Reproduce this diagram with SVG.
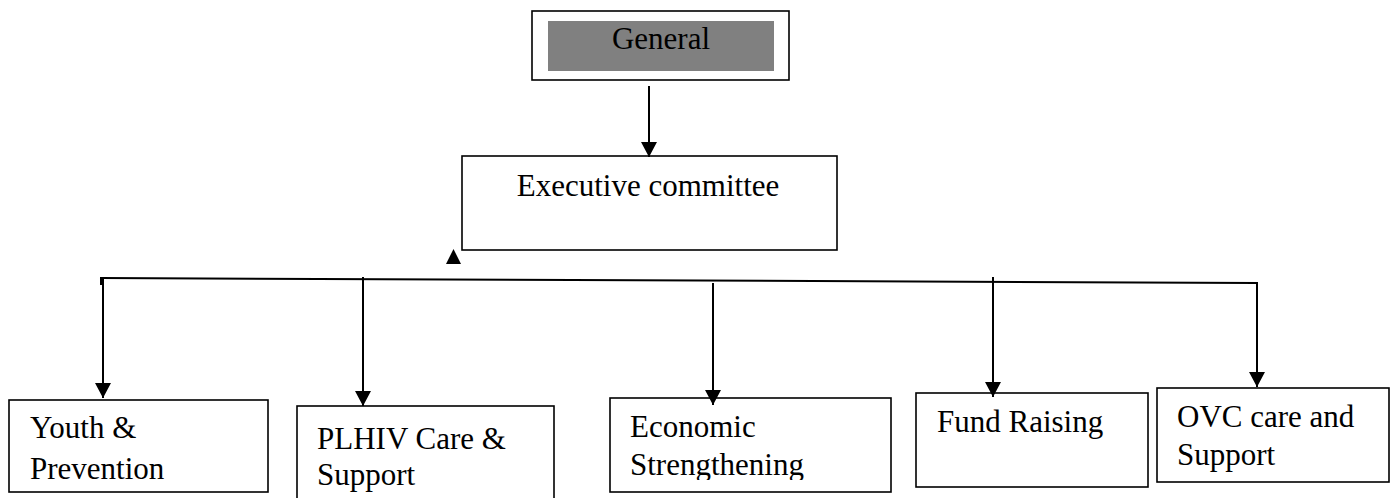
<svg xmlns="http://www.w3.org/2000/svg" width="1396" height="498" viewBox="0 0 1396 498">
<style>
.box{fill:#fff;stroke:#000;stroke-width:1.6}
.lbl{font-family:"Liberation Serif","Times New Roman",serif;font-size:31px;fill:#000}
.mid{text-anchor:middle}
.con{stroke:#000;stroke-width:2;fill:none}
</style>
<defs>
<marker id="ah" markerUnits="userSpaceOnUse" markerWidth="15" markerHeight="16" refX="15" refY="8" orient="auto">
<path d="M0,0 L15,8 L0,16 z" fill="#000"/>
</marker>
<clipPath id="clipEco"><rect x="611" y="399" width="279" height="81"/></clipPath>
</defs>
<rect width="1396" height="498" fill="#fff"/>
<g id="general">
<rect class="box" x="532" y="11" width="257" height="69" stroke-width="2"/>
<rect x="548" y="21" width="226" height="50" fill="#808080"/>
<text class="lbl mid" x="661" y="49">General</text>
</g>
<g id="executive">
<rect class="box" x="462" y="156" width="375" height="94"/>
<text class="lbl mid" x="648" y="196">Executive committee</text>
</g>
<g id="youth">
<rect class="box" x="9" y="400" width="259" height="92"/>
<text class="lbl" x="30" y="438">Youth &amp;</text>
<text class="lbl" x="30" y="479">Prevention</text>
</g>
<g id="plhiv">
<rect class="box" x="297" y="406" width="257" height="100"/>
<text class="lbl" x="317" y="449">PLHIV Care &amp;</text>
<text class="lbl" x="317" y="485">Support</text>
</g>
<g id="economic">
<rect class="box" x="610" y="398" width="281" height="94"/>
<g clip-path="url(#clipEco)">
<text class="lbl" x="630" y="437">Economic</text>
<text class="lbl" x="630" y="475">Strengthening</text>
</g>
</g>
<g id="fund">
<rect class="box" x="916" y="393" width="232" height="94"/>
<text class="lbl" x="937" y="432">Fund Raising</text>
</g>
<g id="ovc">
<rect class="box" x="1157" y="388" width="232" height="94"/>
<text class="lbl" x="1177" y="427">OVC care and</text>
<text class="lbl" x="1177" y="465">Support</text>
</g>
<g id="connectors">
<line class="con" x1="649" y1="86" x2="649" y2="157" marker-end="url(#ah)"/>
<polygon points="446,264 453.5,249 461,264" fill="#000"/>
<polyline class="con" points="100,278 1257,283 1257,387" marker-end="url(#ah)"/>
<line class="con" x1="101" y1="278" x2="101" y2="285"/>
<line class="con" x1="103" y1="278" x2="103" y2="398" marker-end="url(#ah)"/>
<line class="con" x1="363" y1="277" x2="363" y2="406" marker-end="url(#ah)"/>
<line class="con" x1="713" y1="283" x2="713" y2="405" marker-end="url(#ah)"/>
<line class="con" x1="993" y1="277" x2="993" y2="397" marker-end="url(#ah)"/>
</g>
</svg>
